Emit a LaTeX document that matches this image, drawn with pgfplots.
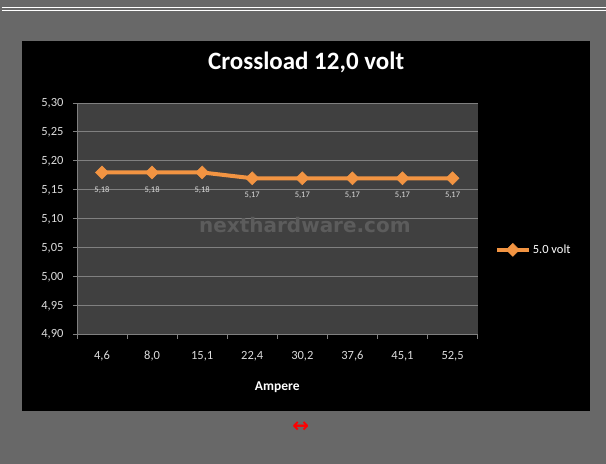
\documentclass[border=0pt]{standalone}
\usepackage{fontspec}
\setmainfont{Carlito}
\newfontfamily\dejavu{DejaVu Sans}
\usepackage{pgfplots}
\pgfplotsset{compat=1.18}
\definecolor{outergray}{RGB}{104,104,104}
\definecolor{plotgray}{RGB}{64,64,64}
\definecolor{gridgray}{RGB}{128,128,128}
\definecolor{wmgray}{RGB}{92,92,92}
\definecolor{ticktext}{RGB}{220,220,220}
\definecolor{lineorange}{RGB}{242,148,66}
\begin{document}
\begin{tikzpicture}[x=1pt,y=1pt]
\fill[outergray] (0,0) rectangle (606,464);
\draw[white,line width=1pt] (2,456.7) -- (606,456.7);
\draw[white,line width=1pt] (2,453.3) -- (606,453.3);
\fill[black] (22,53) rectangle (590,423);
\begin{axis}[
  at={(77pt,129pt)}, anchor=south west,
  scale only axis, width=401pt, height=232pt,
  xmin=-0.5, xmax=7.5, ymin=4.9, ymax=5.3,
  xtick={0,...,7},
  xticklabels={{4,6},{8,0},{15,1},{22,4},{30,2},{37,6},{45,1},{52,5}},
  minor xtick={-0.5,0.5,...,7.5},
  ytick={4.90,4.95,...,5.31},
  axis lines*=left,
  axis line style={draw=gridgray, line width=0.8pt},
  tick align=outside,
  major x tick style={draw=none},
  minor x tick style={draw=gridgray, line width=0.8pt},
  minor tick length=4pt,
  major tick length=4pt,
  y tick style={draw=gridgray, line width=0.8pt},
  ymajorgrids, grid style={draw=gridgray, line width=0.8pt},
  axis background/.style={fill=plotgray},
  /pgf/number format/.cd, assume math mode=true, use comma, fixed, fixed zerofill, precision=2,
  /pgfplots/.cd,
  ticklabel style={font=\fontsize{12.5}{14}\selectfont, text=ticktext},
  xticklabel style={/pgf/number format/precision=1},
  xticklabel shift=9pt,
  yticklabel shift=6pt,
  title={Crossload 12,0 volt},
  title style={at={(0.572,1.147)}, anchor=center, font=\bfseries\fontsize{25}{28}\selectfont, text=white},
  xlabel={Ampere},
  xlabel style={at={(0.5,-0.225)}, anchor=center, font=\bfseries\fontsize{13.5}{15}\selectfont, text=white},
  legend style={at={(1.035,0.366)}, anchor=west, draw=none, fill=none, text=white, font=\fontsize{12.5}{14}\selectfont},
  legend image code/.code={\draw[#1, mark repeat=2, mark phase=2] plot coordinates {(0pt,0pt) (16pt,0pt) (32pt,0pt)};},
  clip=false,
]
\node[anchor=base, text=wmgray, font=\dejavu\bfseries\fontsize{20}{24}\selectfont] at (rel axis cs:0.569,0.44) {nexthardware.com};
\addplot[lineorange, line width=4pt, mark=square*, mark size=4.6pt,
  mark options={rotate=45, fill=lineorange, draw=lineorange, line width=0.5pt},
  nodes near coords,
  nodes near coords style={font=\fontsize{8.5}{10}\selectfont, text=ticktext, anchor=center, yshift=-17.5pt, /pgf/number format/assume math mode=true}]
  coordinates {(0,5.18) (1,5.18) (2,5.18) (3,5.17) (4,5.17) (5,5.17) (6,5.17) (7,5.17)};
\addlegendentry{5.0 volt}
\end{axis}
\node[text=red, font=\dejavu\bfseries\fontsize{20}{24}\selectfont] at (301,37) {↔};
\end{tikzpicture}
\end{document}
